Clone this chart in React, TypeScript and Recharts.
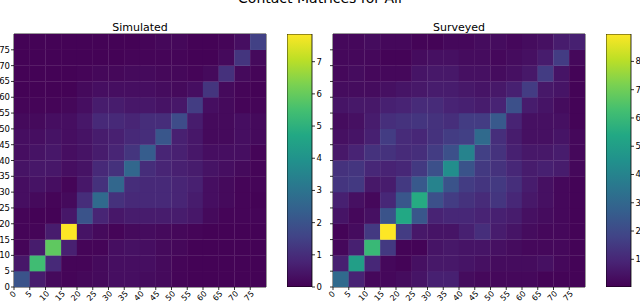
import React from "react";
import {
  Bar,
  BarChart,
  ReferenceArea,
  ReferenceLine,
  Scatter,
  ScatterChart,
  XAxis,
  YAxis,
} from "recharts";

// age groups (lower bound of each 5-year band)
const AGES = [0, 5, 10, 15, 20, 25, 30, 35, 40, 45, 50, 55, 60, 65, 70, 75];

// rows = contact age band (0 first), columns = participant age band
const SIMULATED = [
  [2.0, 0.6, 0.2, 0.1, 0.15, 0.2, 0.3, 0.3, 0.25, 0.2, 0.1, 0.05, 0.05, 0.05, 0.05, 0.05],
  [0.5, 5.4, 0.9, 0.1, 0.1, 0.2, 0.3, 0.3, 0.3, 0.2, 0.1, 0.05, 0.05, 0.05, 0.05, 0.05],
  [0.1, 0.6, 5.9, 0.7, 0.1, 0.1, 0.3, 0.35, 0.3, 0.2, 0.15, 0.05, 0.05, 0.05, 0.05, 0.05],
  [0.1, 0.1, 0.6, 7.86, 0.4, 0.2, 0.1, 0.2, 0.25, 0.2, 0.15, 0.1, 0.05, 0.05, 0.05, 0.05],
  [0.1, 0.05, 0.05, 0.5, 2.0, 0.8, 0.5, 0.6, 0.6, 0.6, 0.6, 0.5, 0.2, 0.1, 0.1, 0.1],
  [0.3, 0.2, 0.1, 0.2, 1.0, 2.7, 1.1, 0.9, 0.9, 0.9, 0.8, 0.6, 0.3, 0.2, 0.1, 0.05],
  [0.3, 0.4, 0.3, 0.1, 0.5, 1.1, 2.6, 1.0, 0.9, 0.9, 0.8, 0.7, 0.3, 0.2, 0.1, 0.1],
  [0.4, 0.5, 0.5, 0.3, 0.4, 0.9, 1.1, 2.6, 1.0, 0.8, 0.7, 0.6, 0.4, 0.3, 0.2, 0.1],
  [0.3, 0.4, 0.5, 0.3, 0.4, 0.6, 0.8, 1.2, 2.3, 0.8, 0.7, 0.5, 0.3, 0.3, 0.3, 0.1],
  [0.3, 0.3, 0.4, 0.3, 0.4, 0.6, 0.7, 0.9, 1.0, 2.1, 0.7, 0.5, 0.2, 0.2, 0.3, 0.2],
  [0.2, 0.2, 0.3, 0.3, 0.5, 0.9, 0.9, 0.8, 1.0, 1.0, 1.8, 0.6, 0.2, 0.2, 0.3, 0.2],
  [0.1, 0.1, 0.1, 0.15, 0.3, 0.6, 0.6, 0.5, 0.5, 0.4, 0.5, 1.4, 0.3, 0.2, 0.1, 0.1],
  [0.05, 0.05, 0.05, 0.05, 0.2, 0.3, 0.3, 0.3, 0.3, 0.25, 0.2, 0.3, 1.2, 0.2, 0.1, 0.05],
  [0.05, 0.05, 0.05, 0.05, 0.1, 0.15, 0.15, 0.2, 0.2, 0.15, 0.15, 0.1, 0.2, 1.1, 0.2, 0.1],
  [0.05, 0.05, 0.05, 0.05, 0.05, 0.05, 0.05, 0.1, 0.1, 0.1, 0.1, 0.05, 0.05, 0.2, 1.2, 0.2],
  [0.05, 0.05, 0.05, 0.05, 0.05, 0.05, 0.05, 0.05, 0.1, 0.15, 0.15, 0.05, 0.05, 0.1, 0.3, 1.5],
];

const SURVEYED = [
  [3.1, 0.9, 0.2, 0.2, 0.3, 0.5, 0.8, 0.8, 0.3, 0.2, 0.2, 0.2, 0.2, 0.1, 0.1, 0.1],
  [0.8, 5.0, 1.0, 0.2, 0.1, 0.4, 0.6, 0.6, 0.5, 0.4, 0.3, 0.3, 0.3, 0.4, 0.2, 0.1],
  [0.2, 0.8, 6.0, 1.5, 0.1, 0.1, 0.5, 0.6, 0.5, 0.5, 0.4, 0.3, 0.2, 0.2, 0.2, 0.1],
  [0.1, 0.3, 1.5, 8.97, 1.6, 0.6, 0.5, 0.5, 0.8, 1.2, 0.7, 0.5, 0.3, 0.2, 0.2, 0.1],
  [0.5, 0.2, 0.4, 2.3, 5.4, 2.4, 0.9, 1.0, 1.0, 0.9, 0.8, 0.7, 0.4, 0.3, 0.2, 0.1],
  [0.8, 0.4, 0.2, 1.0, 2.4, 5.5, 2.2, 1.6, 1.3, 1.1, 1.4, 1.0, 0.6, 0.4, 0.2, 0.1],
  [1.4, 1.5, 0.6, 0.7, 1.5, 2.5, 4.0, 2.3, 1.6, 1.4, 1.5, 1.2, 0.7, 0.4, 0.2, 0.1],
  [1.3, 1.4, 1.0, 0.9, 1.0, 1.5, 2.2, 4.4, 2.3, 1.5, 1.3, 1.0, 0.7, 0.8, 0.7, 0.2],
  [0.6, 0.9, 1.3, 1.3, 1.1, 1.2, 1.6, 2.2, 4.0, 1.7, 1.3, 0.8, 0.6, 0.6, 0.7, 0.2],
  [0.4, 0.5, 0.8, 1.6, 1.1, 1.0, 1.3, 1.6, 1.7, 3.1, 1.2, 0.7, 0.4, 0.4, 0.5, 0.2],
  [0.3, 0.4, 0.7, 1.2, 1.3, 1.4, 1.3, 1.2, 1.6, 1.6, 2.5, 0.9, 0.4, 0.4, 0.4, 0.1],
  [0.5, 0.6, 0.6, 0.8, 0.9, 1.1, 1.1, 0.9, 0.8, 0.7, 0.9, 2.2, 0.7, 0.5, 0.3, 0.1],
  [0.3, 0.3, 0.3, 0.4, 0.5, 0.6, 0.7, 0.7, 0.6, 0.5, 0.6, 0.8, 1.6, 0.6, 0.5, 0.1],
  [0.2, 0.3, 0.2, 0.2, 0.2, 0.5, 0.6, 0.6, 0.4, 0.4, 0.3, 0.4, 0.6, 1.6, 0.5, 0.1],
  [0.2, 0.2, 0.2, 0.1, 0.1, 0.3, 0.4, 0.4, 0.3, 0.3, 0.2, 0.3, 0.4, 0.7, 1.6, 0.2],
  [0.2, 0.2, 0.3, 0.2, 0.2, 0.1, 0.1, 0.2, 0.2, 0.3, 0.3, 0.2, 0.3, 0.4, 0.7, 0.8],
];

const SIM_RANGE = [0, 7.86];
const SUR_RANGE = [0.02, 8.97];
const SIM_CB_TICKS = [0, 1, 2, 3, 4, 5, 6, 7];
const SUR_CB_TICKS = [1, 2, 3, 4, 5, 6, 7, 8];

// faint stray grid lines in the original
const SIM_VLINES = [10, 15, 20, 75];
const SUR_VLINES = [15, 20, 25];
const HLINES = [45, 50];

const VIRIDIS = [
  "#440154", "#482475", "#414487", "#355f8d", "#2a788e", "#21918c",
  "#22a884", "#44bf70", "#7ad151", "#bddf26", "#fde725",
];

const FONT = "DejaVu Sans, sans-serif";
const PLOT_H = 253;
const PLOT_W = 252;

function hexToRgb(h: string) {
  return [1, 3, 5].map((i) => parseInt(h.slice(i, i + 2), 16));
}

function viridis(t: number) {
  const c = Math.min(1, Math.max(0, t)) * 10;
  const lo = Math.min(9, Math.floor(c));
  const f = c - lo;
  const a = hexToRgb(VIRIDIS[lo]);
  const b = hexToRgb(VIRIDIS[lo + 1]);
  const rgb = a.map((v, i) => Math.round(v + (b[i] - v) * f));
  return `rgb(${rgb.join(",")})`;
}

function toCells(matrix: number[][]) {
  const out: Array<{ x: number; y: number; v: number }> = [];
  matrix.forEach((row, r) =>
    row.forEach((v, c) => out.push({ x: AGES[c] + 2.5, y: AGES[r] + 2.5, v }))
  );
  return out;
}

const XTick = ({ x, y, payload }: any) => {
  const label = String(payload.value);
  const w = label.length * 5;
  const bh = (w + 5.8) / Math.SQRT2;
  const cx = x - 1;
  const cy = y + bh / 2 - 1.5;
  return (
    <text
      x={cx}
      y={cy}
      transform={`rotate(-45 ${cx} ${cy})`}
      textAnchor="middle"
      dominantBaseline="central"
      fontSize={8}
      fontFamily={FONT}
      fill="#000"
    >
      {label}
    </text>
  );
};

const YTick = ({ x, y, payload }: any) => (
  <text x={x} y={y} textAnchor="end" dominantBaseline="central" fontSize={8.5} fontFamily={FONT} fill="#000">
    {payload.value}
  </text>
);

const CbTick = ({ x, y, payload }: any) => (
  <text x={x} y={y} textAnchor="start" dominantBaseline="central" fontSize={8.5} fontFamily={FONT} fill="#000">
    {payload.value}
  </text>
);

const NoTick = () => <g />;

function Heatmap({
  matrix,
  range,
  vlines,
  showLabels,
}: {
  matrix: number[][];
  range: number[];
  vlines: number[];
  showLabels: boolean;
}) {
  const cells = toCells(matrix);
  const cw = PLOT_W / 16 + 0.3;
  const ch = PLOT_H / 16 + 0.3;
  return (
    <ScatterChart width={270} height={303} margin={{ top: 34, right: 4, bottom: 0, left: 0 }}>
      <XAxis
        type="number"
        dataKey="x"
        domain={[0, 80]}
        ticks={AGES}
        interval={0}
        height={16}
        tickSize={3}
        tickLine={{ stroke: "#000", strokeWidth: 0.8 }}
        axisLine={false}
        tick={<XTick />}
        allowDataOverflow
      />
      <YAxis
        type="number"
        dataKey="y"
        domain={[0, 80]}
        ticks={AGES}
        interval={0}
        width={14}
        tickSize={3}
        tickMargin={1}
        tickLine={{ stroke: "#000", strokeWidth: 0.8 }}
        axisLine={false}
        tick={showLabels ? <YTick /> : <NoTick />}
        allowDataOverflow
      />
      <Scatter
        data={cells}
        isAnimationActive={false}
        shape={(p: any) => (
          <rect
            x={p.cx - cw / 2}
            y={p.cy - ch / 2}
            width={cw}
            height={ch}
            fill={viridis((p.payload.v - range[0]) / (range[1] - range[0]))}
          />
        )}
      />
      {vlines.map((v) => (
        <ReferenceLine key={`v${v}`} x={v} stroke="#ffffff" strokeOpacity={0.22} strokeWidth={1} />
      ))}
      {HLINES.map((v) => (
        <ReferenceLine key={`h${v}`} y={v} stroke="#ffffff" strokeOpacity={0.22} strokeWidth={1} />
      ))}
      <ReferenceArea x1={0} x2={80} y1={0} y2={80} fill="none" stroke="#000" strokeWidth={0.8} fillOpacity={0} />
    </ScatterChart>
  );
}

function Colorbar({ id, range, ticks }: { id: string; range: number[]; ticks: number[] }) {
  const data = [{ k: "cb", r: range }];
  return (
    <BarChart
      width={60}
      height={303}
      data={data}
      margin={{ top: 34, right: 0, bottom: 16, left: 0 }}
      barCategoryGap={0}
    >
      <defs>
        <linearGradient id={id} x1="0" y1="1" x2="0" y2="0">
          {VIRIDIS.map((c, i) => (
            <stop key={c} offset={`${i * 10}%`} stopColor={c} />
          ))}
        </linearGradient>
      </defs>
      <XAxis dataKey="k" hide />
      <YAxis
        type="number"
        orientation="right"
        domain={range}
        ticks={ticks}
        interval={0}
        width={35}
        tickSize={3}
        tickMargin={1.5}
        tickLine={{ stroke: "#000", strokeWidth: 0.8 }}
        axisLine={false}
        tick={<CbTick />}
        allowDataOverflow
      />
      <Bar dataKey="r" fill={`url(#${id})`} stroke="#000" strokeWidth={0.8} isAnimationActive={false} />
    </BarChart>
  );
}

export default function App() {
  return (
    <div style={{ position: "absolute", left: 0, top: 0, width: 640, height: 303, background: "#fff" }}>
      <div style={{ position: "absolute", left: 0, top: 0 }}>
        <Heatmap matrix={SIMULATED} range={SIM_RANGE} vlines={SIM_VLINES} showLabels />
      </div>
      <div style={{ position: "absolute", left: 287, top: 0 }}>
        <Colorbar id="cbSim" range={SIM_RANGE} ticks={SIM_CB_TICKS} />
      </div>
      <div style={{ position: "absolute", left: 319, top: 0 }}>
        <Heatmap matrix={SURVEYED} range={SUR_RANGE} vlines={SUR_VLINES} showLabels={false} />
      </div>
      <div style={{ position: "absolute", left: 606, top: 0 }}>
        <Colorbar id="cbSur" range={SUR_RANGE} ticks={SUR_CB_TICKS} />
      </div>
      <svg
        width={640}
        height={303}
        style={{ position: "absolute", left: 0, top: 0, pointerEvents: "none", overflow: "visible" }}
      >
        <text x={320} y={2.7} textAnchor="middle" fontSize={14} fontFamily={FONT} fill="#000">
          Contact Matrices for All
        </text>
        <text x={140} y={30.5} textAnchor="middle" fontSize={11} fontFamily={FONT} fill="#000">
          Simulated
        </text>
        <text x={459} y={30.5} textAnchor="middle" fontSize={11} fontFamily={FONT} fill="#000">
          Surveyed
        </text>
      </svg>
    </div>
  );
}
